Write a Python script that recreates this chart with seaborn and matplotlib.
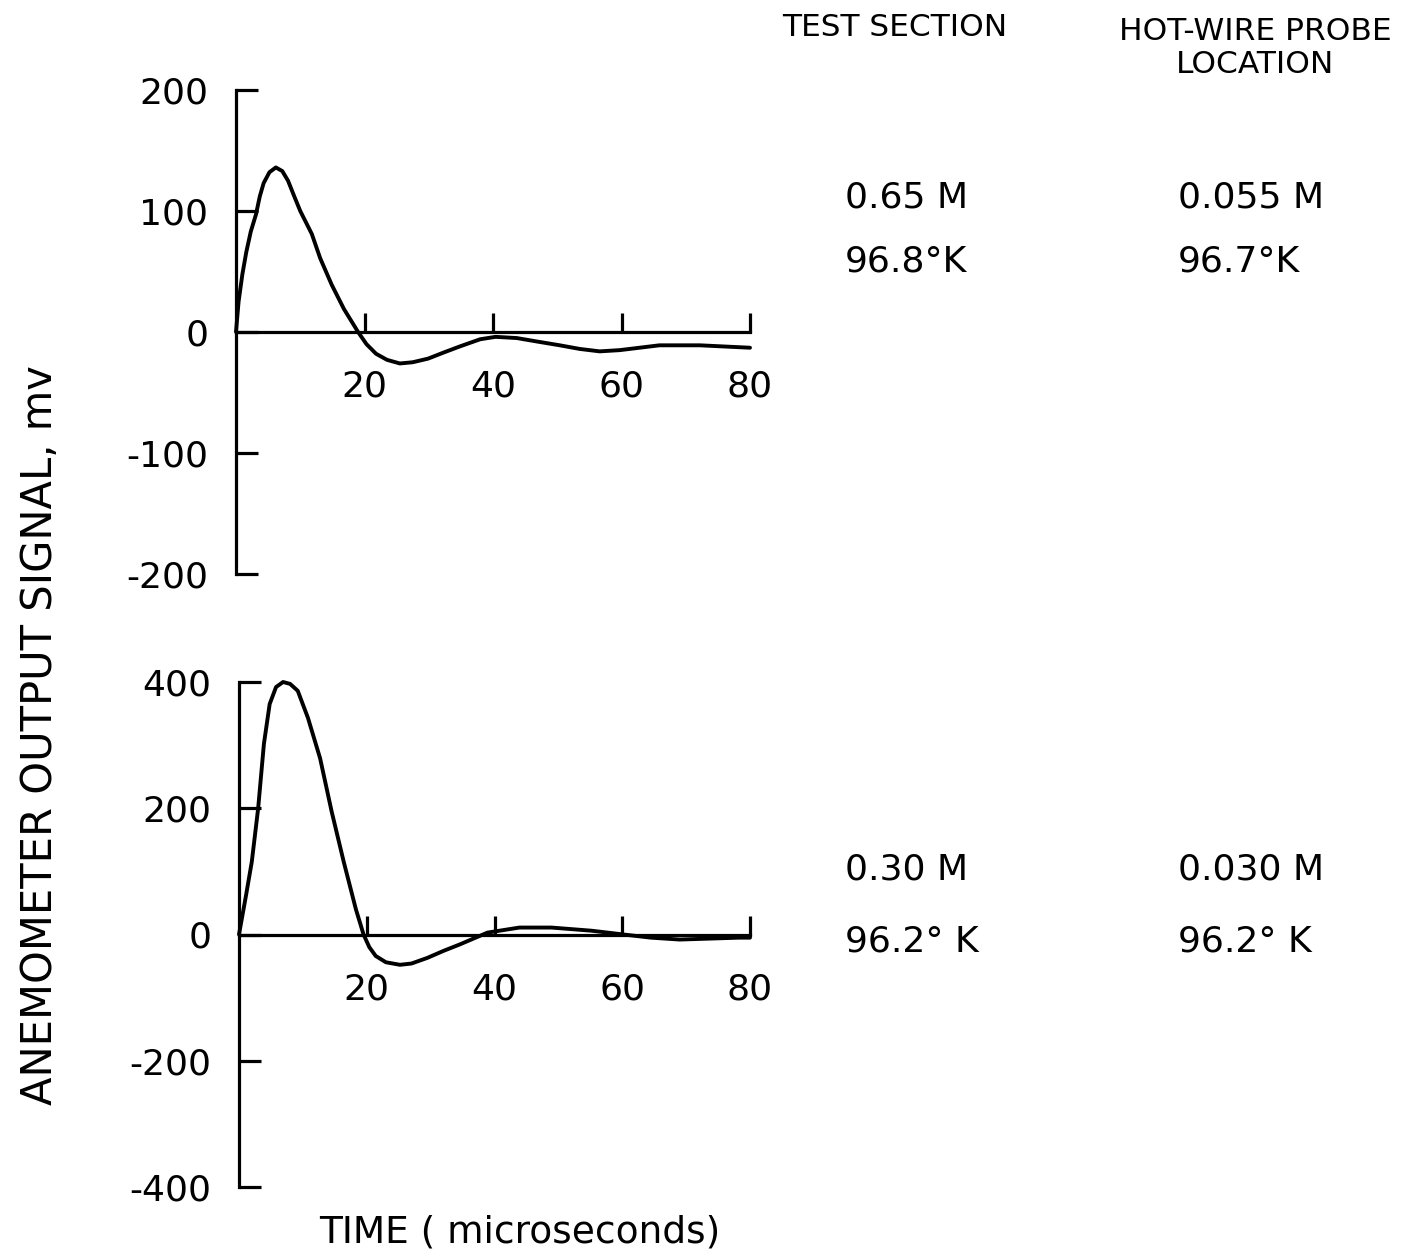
import numpy as np
import pandas as pd
import matplotlib
matplotlib.use("Agg")
import matplotlib.pyplot as plt
import seaborn as sns

# values (time in microseconds, signal in mv)
t_top = [0, 0.4, 1.0, 1.6, 2.3, 3.1, 3.7, 4.3, 5.2, 6.2, 7.2, 8.1, 9.0, 10.0, 11.8,
         13.1, 14.9, 16.8, 19.0, 20.3, 21.8, 23.5, 25.5, 27.5, 29.9, 32.3, 34.8,
         38.0, 40.4, 43.7, 47.0, 50.4, 53.5, 56.6, 59.7, 62.8, 65.9, 72.2, 80]
v_top = [0, 25, 48, 66, 83, 97, 112, 123, 132, 136, 133, 125, 113, 100, 81,
         61, 39, 19, 0, -10, -18, -23, -26, -25, -22, -17, -12,
         -6, -4, -5, -8, -11, -14, -16, -15, -13, -11, -11, -13]

t_bot = [0, 1.1, 2.0, 3.0, 3.9, 4.8, 5.8, 6.9, 8.0, 9.2, 10.8, 12.7, 14.5, 16.4,
         18.3, 19.5, 20.4, 21.4, 23.0, 25.2, 27.0, 29.5, 32.0, 34.5, 38.9, 43.9,
         48.9, 55.2, 60.2, 64.5, 69.0, 78.3, 80]
v_bot = [0, 62, 115, 200, 302, 365, 392, 400, 397, 386, 343, 279, 195, 115,
         40, 0, -20, -34, -44, -48, -46, -37, -26, -16, 3, 11,
         11, 6, 0, -5, -8, -5, -5]

top_yticks = [-200, -100, 0, 100, 200]
bot_yticks = [-400, -200, 0, 200, 400]
xticks = [20, 40, 60, 80]

headers = ["TEST SECTION", "HOT-WIRE PROBE\nLOCATION"]
top_notes = [["0.65 M", "96.8\u00b0K"], ["0.055 M", "96.7\u00b0K"]]
bot_notes = [["0.30 M", "96.2\u00b0 K"], ["0.030 M", "96.2\u00b0 K"]]

sns.set_style("white")
plt.rcParams['font.family'] = ['DejaVu Sans']
plt.rcParams['text.color'] = 'black'
plt.rcParams['xtick.color'] = 'black'
plt.rcParams['ytick.color'] = 'black'
plt.rcParams['lines.solid_joinstyle'] = 'round'

W, H = 1410, 1256
fig = plt.figure(figsize=(W / 100, H / 100), dpi=100)


def px_axes(x0, x1, ytop, ybot):
    return fig.add_axes([x0 / W, 1 - ybot / H, (x1 - x0) / W, (ybot - ytop) / H])


def style_panel(ax, ylim, yticks):
    ax.set_xlim(0, 80)
    ax.set_ylim(*ylim)
    for s in ["top", "right"]:
        ax.spines[s].set_visible(False)
    ax.spines["left"].set_bounds(*ylim)
    ax.spines["bottom"].set_position(("data", 0))
    ax.spines["bottom"].set_bounds(0, 80)
    for s in ["left", "bottom"]:
        ax.spines[s].set_linewidth(2.3)
        ax.spines[s].set_color("black")
    ax.set_xticks(xticks)
    ax.set_yticks(yticks)
    ax.set_yticklabels([str(v) for v in yticks])
    ax.tick_params(axis="x", direction="in", length=14, width=2.3, pad=27,
                   labelsize=26, bottom=True)
    ax.tick_params(axis="y", direction="in", length=16, width=2.3, pad=20,
                   labelsize=26, left=True)
    ax.set_xlabel("")
    ax.set_ylabel("")
    ax.patch.set_visible(False)


ax1 = px_axes(236, 750, 90, 574)
sns.lineplot(x=t_top, y=v_top, ax=ax1, color="black", lw=2.8, clip_on=False)
style_panel(ax1, (-200, 200), top_yticks)

ax2 = px_axes(239, 750, 682, 1187)
sns.lineplot(x=t_bot, y=v_bot, ax=ax2, color="black", lw=2.8, clip_on=False)
style_panel(ax2, (-400, 400), bot_yticks)

fig.text(40 / W, 1 - 735 / H, "ANEMOMETER OUTPUT SIGNAL, mv", rotation=90,
         ha="center", va="center", fontsize=30)
fig.text(520 / W, 1 - 1232 / H, "TIME ( microseconds)", ha="center",
         va="center", fontsize=27)

# column headers
fig.text(895 / W, 1 - 28 / H, headers[0], ha="center", va="center", fontsize=22.5)
fig.text(1255 / W, 1 - 48 / H, headers[1], ha="center", va="center",
         fontsize=22.5, linespacing=1.2)

cols = [845, 1178]
for ci, x in enumerate(cols):
    fig.text(x / W, 1 - 197 / H, top_notes[ci][0], ha="left", va="center", fontsize=26)
    fig.text(x / W, 1 - 262 / H, top_notes[ci][1], ha="left", va="center", fontsize=26)
    fig.text(x / W, 1 - 870 / H, bot_notes[ci][0], ha="left", va="center", fontsize=26)
    fig.text(x / W, 1 - 942 / H, bot_notes[ci][1], ha="left", va="center", fontsize=26)

fig.savefig("out.png", dpi=100, facecolor="white")
